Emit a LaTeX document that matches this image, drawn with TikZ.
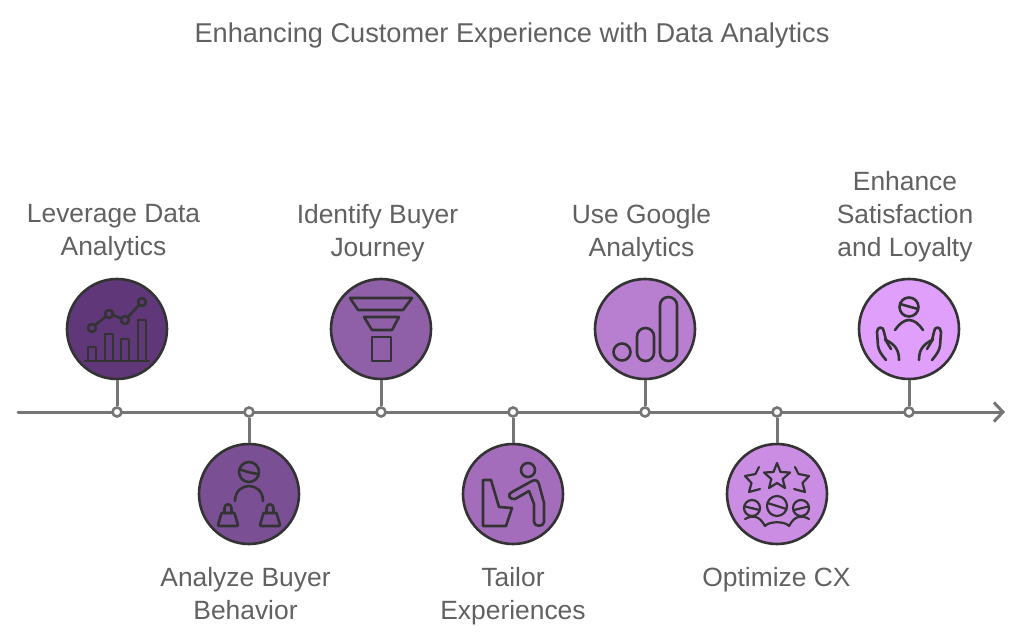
\documentclass[tikz,border=0pt]{standalone}
\usepackage{fontspec}
\setmainfont{Liberation Sans}
\usetikzlibrary{arrows.meta}
\definecolor{cA}{HTML}{60387A}
\definecolor{cB}{HTML}{7B4F93}
\definecolor{cC}{HTML}{8F5FA8}
\definecolor{cD}{HTML}{A46DBB}
\definecolor{cE}{HTML}{B87FD0}
\definecolor{cF}{HTML}{CB8DE4}
\definecolor{cG}{HTML}{DF9FFB}
\definecolor{ink}{HTML}{333333}
\definecolor{railc}{HTML}{757575}
\definecolor{txt}{HTML}{616161}
\tikzset{
  x=1pt,y=-1pt,
  disc/.style={circle,draw=ink,line width=2.6pt,inner sep=0pt,minimum size=100pt},
  dot/.style={circle,draw=railc,fill=white,line width=2.6pt,inner sep=0pt,minimum size=9pt},
  rail/.style={draw=railc,line width=3pt},
  icon/.style={draw=ink,line width=2.6pt,line cap=round,line join=round},
  label/.style={text=txt,font=\fontsize{26.4}{33}\selectfont,align=center,inner sep=0pt},
}
\begin{document}
\begin{tikzpicture}
\useasboundingbox[fill=white] (0,0) rectangle (1024,643);
\node[label,font=\fontsize{27.2}{33}\selectfont] (title) at (512,35) {Enhancing Customer Experience with Data Analytics};
\coordinate (axisstart) at (18,412);
\coordinate (axisend) at (1005,412);
\draw[rail,line cap=round,-{Straight Barb[length=9pt,width=19pt,line width=3pt]}] (axisstart) -- (axisend);
\node[disc,fill=cA] (n1) at (117,329) {};
\node[disc,fill=cB] (n2) at (249,494) {};
\node[disc,fill=cC] (n3) at (381,329) {};
\node[disc,fill=cD] (n4) at (513,494) {};
\node[disc,fill=cE] (n5) at (645,329) {};
\node[disc,fill=cF] (n6) at (777,494) {};
\node[disc,fill=cG] (n7) at (909,329) {};
\node[dot] (d1) at (117,412) {};
\node[dot] (d2) at (249,412) {};
\node[dot] (d3) at (381,412) {};
\node[dot] (d4) at (513,412) {};
\node[dot] (d5) at (645,412) {};
\node[dot] (d6) at (777,412) {};
\node[dot] (d7) at (909,412) {};
\foreach \i in {1,...,7} \draw[rail] (n\i) -- (d\i);
\node[label] (l1) at (113.5,233) {Leverage Data\\Analytics};
\node[label] (l2) at (245.5,593.5) {Analyze Buyer\\Behavior};
\node[label] (l3) at (377.5,233) {Identify Buyer\\Journey};
\node[label] (l4) at (513,596.5) {Tailor\\Experiences};
\node[label] (l5) at (641.5,233) {Use Google\\Analytics};
\node[label] (l6) at (776.5,580) {Optimize CX};
\node[label] (l7) at (905,216.5) {Enhance\\Satisfaction\\and Loyalty};
% icon 1
\begin{scope}[shift={(117,329)},icon]
\draw (-25,-1) circle[radius=4] (-8,-15) circle[radius=4] (8,-9) circle[radius=4] (25,-27) circle[radius=4];
\draw (-22,-4) -- (-11,-12.5) (-4,-14) -- (4,-10.5) (11,-12) -- (22,-24);
\draw (-32,32) -- (32,32);
\draw (-29,32) -- (-29,18) -- (-21,18) -- (-21,32);
\draw (-12,32) -- (-12,5) -- (-4,5) -- (-4,32);
\draw (4,32) -- (4,10) -- (12,10) -- (12,32);
\draw (21,32) -- (21,-9) -- (29,-9) -- (29,32);
\end{scope}
% icon 2
\begin{scope}[shift={(249,494)},icon]
\draw (0,-22) circle[radius=10];
\draw (-9.5,-25) .. controls (-3,-22) and (3,-21) .. (9.5,-20);
\draw (-14,7) .. controls (-14,-3) and (-7,-8) .. (0,-8) .. controls (7,-8) and (14,-3) .. (14,7);
\foreach \s in {-21,21}{
 \begin{scope}[xshift=\s pt]
 \draw (-6.5,19) -- (6.5,19) -- (10,31) -- (9,32) -- (-9,32) -- (-10,31) -- cycle;
 \draw (-3.5,19) -- (-3.5,14) .. controls (-3.5,9) and (3.5,9) .. (3.5,14) -- (3.5,19);
 \end{scope}}
\end{scope}
% icon 3
\begin{scope}[shift={(381,329)},icon]
\draw (-31,-31) -- (31,-31) -- (22,-19) -- (-23,-19) -- cycle;
\draw (-17,-12) -- (18,-12) -- (11,1) -- (-9,1) -- cycle;
\draw (-9,8) rectangle (10,32);
\end{scope}
% icon 4
\begin{scope}[shift={(513,494)},icon]
\draw (15,-24) circle[radius=7];
\draw (-30,-14) -- (-22,-14) -- (-14,13) -- (-1,14) -- (-7,32) -- (-30,32) -- cycle;
\draw (-1,-2) -- (19,-13) .. controls (23,-15) and (25,-13) .. (26,-10) -- (31,9) -- (31,28)
  .. controls (31,33) and (21,33) .. (21,28) -- (21,10) -- (16,-3) -- (2,5)
  .. controls (-4,6) and (-6,0) .. (-1,-2);
\end{scope}
% icon 5
\begin{scope}[shift={(645,329)},icon]
\draw (-23,23) circle[radius=8.5];
\draw[rounded corners=8.4pt] (-8,-1) rectangle (9,32);
\draw[rounded corners=8.4pt] (15,-32) rectangle (32,32);
\end{scope}
% icon 6
\begin{scope}[shift={(777,494)},icon,line width=2.2pt]
\draw (0,-31) -- (3.5,-22) -- (13,-21.5) -- (5.7,-15) -- (8,-6) -- (0,-11) -- (-8,-6) -- (-5.7,-15) -- (-13,-21.5) -- (-3.5,-22) -- cycle;
\draw (-18,-27) -- (-21.5,-20) -- (-32,-18) -- (-25.5,-11) -- (-28,-2) -- (-17,-5);
\draw (18,-27) -- (21.5,-20) -- (32,-18) -- (25.5,-11) -- (28,-2) -- (17,-5);
\draw (0,12) circle[radius=10] (-25,14) circle[radius=8] (24,14) circle[radius=8];
\draw (-9.5,9) -- (9.5,15) (-32,12.5) -- (-17.5,16) (17,16) -- (31.5,12.5);
\draw (-32,25) .. controls (-25,21) and (-18,21) .. (-12,32) .. controls (-8,27) and (8,27) .. (12,32) .. controls (18,21) and (25,21) .. (32,25);
\end{scope}
% icon 7
\begin{scope}[shift={(909,329)},icon]
\draw (0,-22) circle[radius=9.5];
\draw (-9,-25) -- (9,-20);
\draw (-14,1) .. controls (-10,-5) and (-5,-9) .. (0,-9) .. controls (5,-9) and (10,-5) .. (14,1);
\foreach \m in {1,-1}{
 \begin{scope}[xscale=\m]
 \draw (-23,31) .. controls (-28,25) and (-30,22) .. (-31,17) -- (-32,3) .. controls (-32,-3) and (-25,-3) .. (-25,3) -- (-23,11) .. controls (-13,16) and (-10,22) .. (-10,31);
 \draw (-24,10) -- (-18,20);
 \end{scope}}
\end{scope}
\end{tikzpicture}
\end{document}
